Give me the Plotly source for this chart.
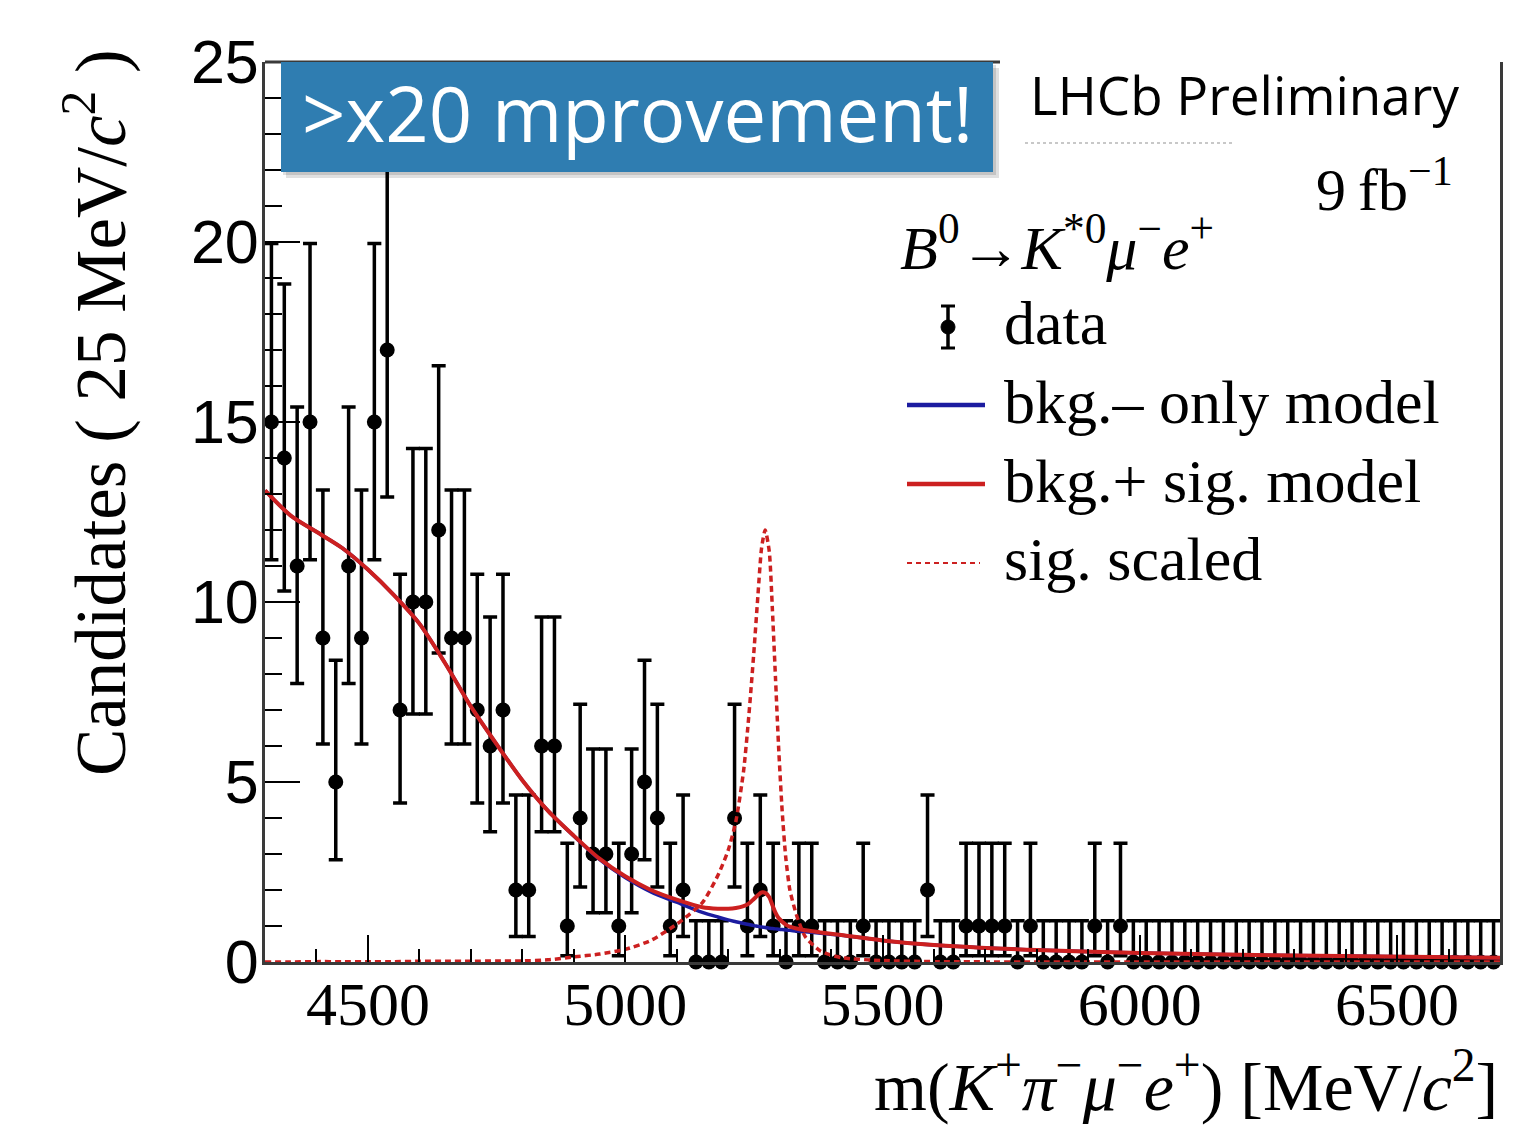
import math
import numpy as np
import plotly.graph_objects as go

# ---- histogram of m(K+ pi- mu- e+), 25 MeV/c^2 bins ----
mass_lo = 4300.0
mass_hi = 6700.0
bin_width = 25.0

counts = [15, 14, 11, 15, 9, 5, 11, 9, 15, 17,
          7, 10, 10, 12, 9, 9, 7, 6, 7, 2,
          2, 6, 6, 1, 4, 3, 3, 1, 3, 5,
          4, 1, 2, 0, 0, 0, 4, 1, 2, 1,
          0, 1, 1, 0, 0, 0, 1, 0, 0, 0,
          0, 2, 0, 0, 1, 1, 1, 1, 0, 1,
          0, 0, 0, 0, 1, 0, 1, 0, 0, 0,
          0, 0, 0, 0, 0, 0, 0, 0, 0, 0,
          0, 0, 0, 0, 0, 0, 0, 0, 0, 0,
          0, 0, 0, 0, 0, 0]

# ---- fitted model curves, sampled in mass ----
fit_mass = [4300, 4350, 4400, 4450, 4500, 4550, 4600, 4650, 4700, 4750,
            4800, 4850, 4900, 4950, 5000, 5050, 5100, 5150, 5180, 5200,
            5215, 5230, 5240, 5250, 5258, 5265, 5272, 5280, 5286, 5292,
            5298, 5305, 5312, 5320, 5333, 5350, 5380, 5420, 5500, 5600,
            5800, 6000, 6300, 6700]

bkg_only = [13.1, 12.4, 11.95, 11.5, 10.9, 10.2, 9.4, 8.3, 7.1, 6.05,
            5.05, 4.2, 3.5, 2.85, 2.35, 1.95, 1.66, 1.38, 1.25, 1.17,
            1.12, 1.07, 1.04, 1.01, 0.99, 0.97, 0.96, 0.94, 0.93, 0.92,
            0.91, 0.90, 0.89, 0.88, 0.86, 0.84, 0.80, 0.74, 0.60, 0.47,
            0.33, 0.25, 0.18, 0.12]

bkg_plus_sig = [13.1, 12.4, 11.95, 11.5, 10.9, 10.2, 9.4, 8.3, 7.1, 6.05,
                5.05, 4.2, 3.51, 2.87, 2.38, 2.0, 1.73, 1.52, 1.48, 1.48,
                1.50, 1.55, 1.62, 1.75, 1.86, 1.93, 1.92, 1.8, 1.58, 1.37,
                1.22, 1.12, 1.04, 0.98, 0.93, 0.88, 0.82, 0.75, 0.60, 0.47,
                0.33, 0.25, 0.18, 0.12]

sig_scaled = [0.0, 0.0, 0.01, 0.01, 0.01, 0.01, 0.02, 0.02, 0.02, 0.03,
              0.03, 0.06, 0.14, 0.22, 0.35, 0.6, 1.05, 1.65, 2.4, 3.1,
              3.9, 5.3, 6.8, 8.6, 10.2, 11.5, 12.0, 11.4, 9.8, 7.9,
              6.0, 4.2, 2.9, 2.0, 1.3, 0.7, 0.3, 0.12, 0.04, 0.01,
              0.0, 0.0, 0.0, 0.0]

x_ticks = [4500, 5000, 5500, 6000, 6500]
y_ticks = [0, 5, 10, 15, 20, 25]

legend_labels = ["data", "bkg.\u2013 only model", "bkg.+ sig. model", "sig. scaled"]

# ---- Poisson (Garwood) 68.3% intervals for the data points ----
ALPHA = (1.0 - 0.682689) / 2.0


def pois_cdf(n, mu):
    term = math.exp(-mu)
    s = term
    for k in range(1, n + 1):
        term *= mu / k
        s += term
    return s


def solve(f, lo, hi):
    for _ in range(200):
        mid = 0.5 * (lo + hi)
        if f(mid) > 0:
            lo = mid
        else:
            hi = mid
    return 0.5 * (lo + hi)


def poisson_interval(n):
    if n == 0:
        return 0.0, -math.log(1.0 - 0.682689)
    up = solve(lambda mu: pois_cdf(n, mu) - ALPHA, n, n + 20 * math.sqrt(n) + 10)
    low = solve(lambda mu: ALPHA - (1.0 - pois_cdf(n - 1, mu)), 0.0, n)
    return low, up


n_bins = int(round((mass_hi - mass_lo) / bin_width))
centers = mass_lo + bin_width * (np.arange(n_bins) + 0.5)
err_lo, err_hi = [], []
for n in counts:
    lo, hi = poisson_interval(n)
    err_lo.append(n - lo)
    err_hi.append(hi - n)

# ---- plot-area geometry (px) used to place decorations ----
W, H = 1538, 1139
L, R, T, B = 265, 1500, 62, 962


def px(x):
    return (x - L) / (R - L)


def py(y):
    return (B - y) / (B - T)


SERIF = "Liberation Serif"
SANS = "Liberation Sans"
SLIDE = "Open Sans"
BLUE = "#1c1ca0"
RED = "#cc2020"

fig = go.Figure()

fig.add_trace(go.Scatter(
    x=centers, y=counts, mode="markers",
    marker=dict(color="black", size=15),
    error_y=dict(type="data", symmetric=False, array=err_hi, arrayminus=err_lo,
                 color="black", thickness=3.5, width=7),
    cliponaxis=False, name=legend_labels[0]))

fig.add_trace(go.Scatter(
    x=fit_mass, y=bkg_only, mode="lines",
    line=dict(color=BLUE, width=3.5, shape="spline", smoothing=0.8),
    name=legend_labels[1]))

fig.add_trace(go.Scatter(
    x=fit_mass, y=bkg_plus_sig, mode="lines",
    line=dict(color=RED, width=4, shape="spline", smoothing=0.8),
    name=legend_labels[2]))

fig.add_trace(go.Scatter(
    x=fit_mass, y=sig_scaled, mode="lines",
    line=dict(color=RED, width=3.5, dash="6px,4px", shape="spline", smoothing=0.6),
    name=legend_labels[3]))

shapes = []
# partial top frame line and headline banner with its drop shadow
shapes.append(dict(type="line", xref="paper", yref="paper",
                   x0=0, x1=px(1000), y0=1, y1=1,
                   line=dict(color="#3a3a3a", width=3)))
shapes.append(dict(type="rect", xref="paper", yref="paper",
                   x0=px(286), x1=px(999), y0=py(178), y1=py(68),
                   fillcolor="rgba(0,0,0,0.12)", line=dict(width=0)))
shapes.append(dict(type="rect", xref="paper", yref="paper",
                   x0=px(283), x1=px(996), y0=py(175), y1=py(65),
                   fillcolor="rgba(0,0,0,0.12)", line=dict(width=0)))
shapes.append(dict(type="rect", xref="paper", yref="paper",
                   x0=px(281), x1=px(993), y0=py(172), y1=py(62),
                   fillcolor="#2f7db1", line=dict(width=0)))
# faint remnant line under the collaboration label
shapes.append(dict(type="line", xref="paper", yref="paper",
                   x0=px(1025), x1=px(1235), y0=py(143), y1=py(143),
                   line=dict(color="#c8c8c8", width=2, dash="dot")))

# legend glyphs
lx0, lx1 = px(907), px(985)
mx = px(948)
shapes.append(dict(type="line", xref="paper", yref="paper",
                   x0=mx, x1=mx, y0=py(306), y1=py(348),
                   line=dict(color="black", width=3.5)))
for yy in (306, 348):
    shapes.append(dict(type="line", xref="paper", yref="paper",
                       x0=px(941), x1=px(955), y0=py(yy), y1=py(yy),
                       line=dict(color="black", width=3)))
shapes.append(dict(type="circle", xref="paper", yref="paper",
                   x0=px(941), x1=px(955), y0=py(334), y1=py(320),
                   fillcolor="black", line=dict(color="black", width=1)))
shapes.append(dict(type="line", xref="paper", yref="paper",
                   x0=lx0, x1=lx1, y0=py(405), y1=py(405),
                   line=dict(color=BLUE, width=4.5)))
shapes.append(dict(type="line", xref="paper", yref="paper",
                   x0=lx0, x1=lx1, y0=py(484), y1=py(484),
                   line=dict(color=RED, width=4.5)))
shapes.append(dict(type="line", xref="paper", yref="paper",
                   x0=lx0, x1=px(980), y0=py(563), y1=py(563),
                   line=dict(color=RED, width=2, dash="5px,4px")))

annotations = []


def note(text, x, y, size, family, color="black", xanchor="left", yanchor="middle", angle=0):
    annotations.append(dict(text=text, x=x, y=y, xref="paper", yref="paper",
                            xanchor=xanchor, yanchor=yanchor, showarrow=False,
                            textangle=angle,
                            font=dict(size=size, family=family, color=color)))


note(">x20 mprovement!", px(637), py(112), 76, SLIDE, color="white", xanchor="center")
note("LHCb Preliminary", px(1028), py(95), 53, SLIDE)
note("9\u2009fb<sup>\u22121</sup>", px(1455), py(185), 60, SERIF, xanchor="right")
note("<i>B</i><sup>0</sup>\u2192<i>K</i><sup>*0</sup><i>\u03bc</i><sup>\u2212</sup><i>e</i><sup>+</sup>",
     px(898), py(243), 62, SERIF)
note(legend_labels[0], px(1002), py(323), 62, SERIF)
note(legend_labels[1], px(1002), py(402), 62, SERIF)
note(legend_labels[2], px(1002), py(481), 62, SERIF)
note(legend_labels[3], px(1002), py(559), 62, SERIF)

# axis titles
note("Candidates ( 25 MeV/<i>c</i><sup>2</sup> )", px(96), py(413), 71, SERIF,
     xanchor="center", angle=-90)
note("m(<i>K</i><sup>+</sup><i>\u03c0</i><sup>\u2212</sup><i>\u03bc</i><sup>\u2212</sup><i>e</i><sup>+</sup>) [MeV/<i>c</i><sup>2</sup>]",
     1.0, py(1082), 68, SERIF, xanchor="right")

fig.update_layout(
    width=W, height=H,
    margin=dict(l=L, r=W - R, t=T, b=H - B),
    paper_bgcolor="white", plot_bgcolor="white",
    showlegend=False,
    shapes=shapes, annotations=annotations,
)

fig.update_xaxes(
    range=[mass_lo, mass_hi], tickvals=x_ticks, ticktext=[str(v) for v in x_ticks],
    ticks="inside", ticklen=27, tickwidth=2, tickcolor="black",
    minor=dict(dtick=100, tick0=4300, ticks="inside", ticklen=13, tickwidth=2, tickcolor="black"),
    showline=True, linecolor="#3a3a3a", linewidth=3, mirror=False,
    showgrid=False, zeroline=False,
    tickfont=dict(family=SERIF, size=62, color="black"), ticklabelstandoff=-14,
)

fig.update_yaxes(
    range=[0, 25], tickvals=y_ticks, ticktext=[str(v) for v in y_ticks],
    ticks="inside", ticklen=35, tickwidth=2, tickcolor="black",
    minor=dict(dtick=1, ticks="inside", ticklen=17, tickwidth=2, tickcolor="black"),
    showline=True, linecolor="#3a3a3a", linewidth=3, mirror=True,
    showgrid=False, zeroline=False,
    tickfont=dict(family=SANS, size=61, color="black"), ticklabelstandoff=-9,
)

fig.write_html("out.html")
